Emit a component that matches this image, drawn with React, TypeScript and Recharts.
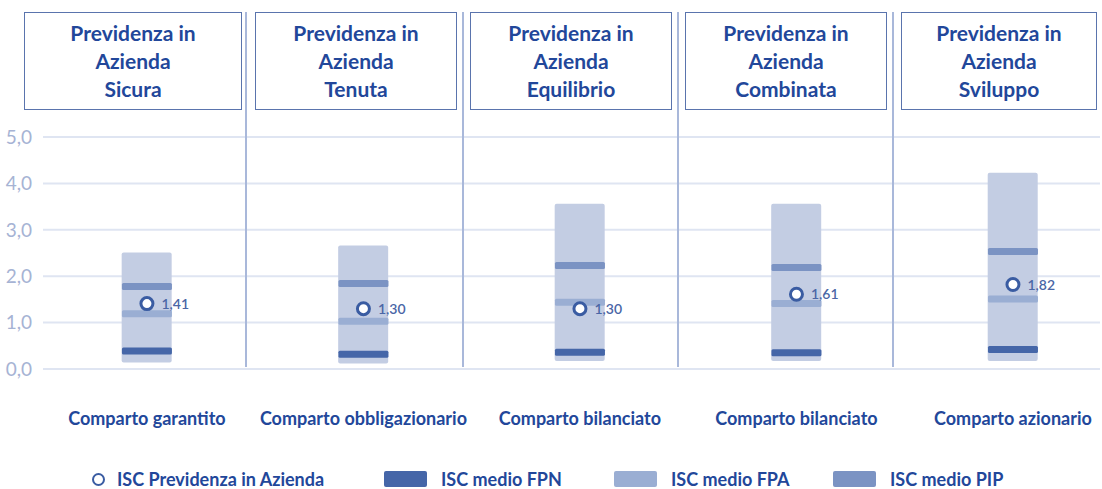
import {
  ComposedChart,
  Bar,
  Scatter,
  XAxis,
  YAxis,
  CartesianGrid,
  LabelList,
} from "recharts";

// ISC ranges and averages per comparto
const categories = [
  "Comparto garantito",
  "Comparto obbligazionario",
  "Comparto bilanciato",
  "Comparto bilanciato",
  "Comparto azionario",
];
const profiles = ["Sicura", "Tenuta", "Equilibrio", "Combinata", "Sviluppo"];
const rangeMin = [0.14, 0.12, 0.17, 0.17, 0.17];
const rangeMax = [2.51, 2.66, 3.56, 3.56, 4.23];
const iscFPN = [0.39, 0.32, 0.36, 0.35, 0.42];
const iscFPA = [1.19, 1.03, 1.44, 1.41, 1.51];
const iscPIP = [1.78, 1.84, 2.23, 2.19, 2.53];
const iscAzienda = [1.41, 1.3, 1.3, 1.61, 1.82];
const yTicks = [0, 1, 2, 3, 4, 5];

const data = categories.map((c, i) => ({
  idx: i,
  category: c,
  range: [rangeMin[i], rangeMax[i]],
  fpn: iscFPN[i],
  fpa: iscFPA[i],
  pip: iscPIP[i],
  isc: iscAzienda[i],
}));

const NAVY = "#22479a";
const C_RANGE = "#c3cde3";
const C_FPN = "#4566a8";
const C_FPA = "#9aaed3";
const C_PIP = "#7b93c3";
const C_DOT = "#3a5ca2";

// header boxes / column dividers (layout only)
const headerBoxes = [
  { left: 24, width: 218 },
  { left: 255, width: 202 },
  { left: 470, width: 202 },
  { left: 685, width: 202 },
  { left: 901, width: 196 },
];
const dividerX = [246, 463, 678, 893];

const comma = (v: number, d: number) => v.toFixed(d).replace(".", ",");

const band = (color: string) => (props: any) => {
  const { cx, cy } = props;
  if (cx == null || cy == null) return <g />;
  return <rect x={cx - 25} y={cy - 3.5} width={50} height={7} rx={1.5} fill={color} />;
};

const dot = (props: any) => {
  const { cx, cy } = props;
  if (cx == null || cy == null) return <g />;
  return <circle cx={cx} cy={cy} r={6} fill="#fff" stroke={C_DOT} strokeWidth={3} />;
};

const CategoryTick = (props: any) => {
  const { x, y, payload } = props;
  return (
    <text
      x={x}
      y={y + 48}
      textAnchor="middle"
      fill={NAVY}
      fontSize={18}
      fontWeight={700}
    >
      {categories[payload.value]}
    </text>
  );
};

const legendItems = [
  { label: "ISC Previdenza in Azienda", kind: "circle", color: C_DOT, left: 92 },
  { label: "ISC medio FPN", kind: "rect", color: C_FPN, left: 384 },
  { label: "ISC medio FPA", kind: "rect", color: C_FPA, left: 614 },
  { label: "ISC medio PIP", kind: "rect", color: C_PIP, left: 833 },
];

export default function App() {
  return (
    <div
      style={{
        position: "absolute",
        left: 0,
        top: 0,
        width: 1102,
        height: 489,
        background: "#fff",
        fontFamily: "Lato, 'Open Sans', sans-serif",
      }}
    >
      <ComposedChart
        width={1102}
        height={489}
        data={data}
        margin={{ top: 137, right: 2, bottom: 90, left: 0 }}
      >
        <CartesianGrid vertical={false} stroke="#dfe5f2" strokeWidth={2} />
        <XAxis
          dataKey="idx"
          type="number"
          domain={[-0.48, 4.402]}
          ticks={[0, 1, 2, 3, 4]}
          interval={0}
          allowDataOverflow
          axisLine={false}
          tickLine={false}
          height={30}
          tick={<CategoryTick />}
        />
        <YAxis
          domain={[0, 5]}
          ticks={yTicks}
          width={43}
          axisLine={false}
          tickLine={false}
          tickMargin={5}
          tick={{ fill: "#a6b3d4", fontSize: 19 }}
          tickFormatter={(v: number) => comma(v, 1)}
        />
        <Bar dataKey="range" barSize={50} fill={C_RANGE} radius={2} isAnimationActive={false} />
        <Scatter dataKey="pip" shape={band(C_PIP)} isAnimationActive={false} />
        <Scatter dataKey="fpa" shape={band(C_FPA)} isAnimationActive={false} />
        <Scatter dataKey="fpn" shape={band(C_FPN)} isAnimationActive={false} />
        <Scatter dataKey="isc" shape={dot} isAnimationActive={false}>
          <LabelList
            dataKey="isc"
            position="right"
            offset={10}
            fill="#4a66a6"
            fontSize={14}
            fontWeight={600}
            formatter={(v: any) => comma(Number(v), 2)}
          />
        </Scatter>
      </ComposedChart>

      {dividerX.map((x, i) => (
        <div
          key={i}
          style={{
            position: "absolute",
            left: x - 1,
            top: 12,
            width: 2,
            height: 355,
            background: "#a9b8da",
          }}
        />
      ))}

      {profiles.map((p, i) => (
        <div
          key={p}
          style={{
            position: "absolute",
            left: headerBoxes[i].left,
            top: 12,
            width: headerBoxes[i].width,
            height: 98,
            boxSizing: "border-box",
            border: "1.5px solid #5a74ad",
            color: NAVY,
            fontWeight: 700,
            fontSize: 21,
            lineHeight: "28px",
            textAlign: "center",
            paddingTop: 6,
          }}
        >
          Previdenza in
          <br />
          Azienda
          <br />
          {p}
        </div>
      ))}

      {legendItems.map((it) => (
        <div
          key={it.label}
          style={{
            position: "absolute",
            left: it.left,
            top: 470,
            height: 18,
            display: "flex",
            alignItems: "center",
            color: NAVY,
            fontWeight: 700,
            fontSize: 18,
          }}
        >
          {it.kind === "circle" ? (
            <span
              style={{
                width: 9,
                height: 9,
                borderRadius: "50%",
                border: `2.5px solid ${it.color}`,
                marginRight: 12,
              }}
            />
          ) : (
            <span
              style={{
                width: 43,
                height: 16,
                borderRadius: 2,
                background: it.color,
                marginRight: 14,
              }}
            />
          )}
          {it.label}
        </div>
      ))}
    </div>
  );
}
